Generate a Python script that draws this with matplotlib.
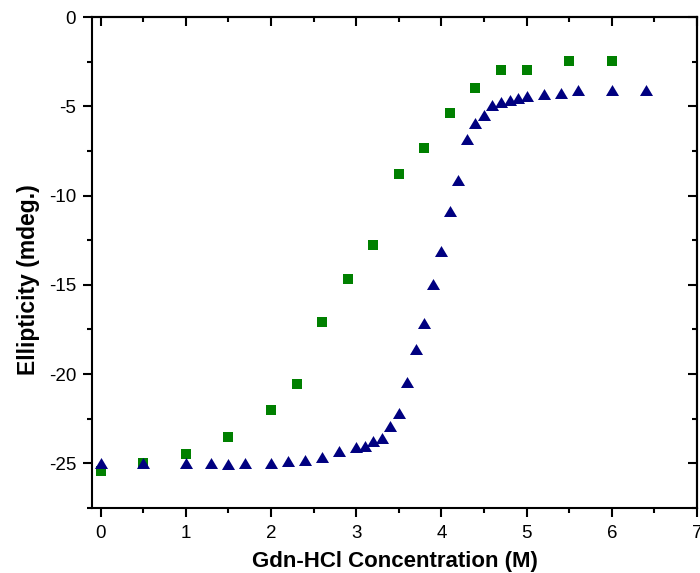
import matplotlib
matplotlib.use("Agg")
import matplotlib.pyplot as plt
from matplotlib.ticker import MultipleLocator

plt.rcParams['font.family'] = ['Liberation Sans', 'DejaVu Sans']
plt.rcParams['axes.unicode_minus'] = False

# Gdn-HCl denaturation series (concentration in M, ellipticity in mdeg)
conc_green = [0.0, 0.5, 1.0, 1.5, 2.0, 2.3, 2.6, 2.9, 3.2, 3.5, 3.8, 4.1, 4.4,
              4.7, 5.0, 5.5, 6.0]
ellip_green = [-25.45, -25.0, -24.45, -23.5, -22.0, -20.55, -17.1, -14.7,
               -12.75, -8.8, -7.35, -5.4, -3.95, -2.95, -2.95, -2.45, -2.45]

conc_blue = [0.0, 0.5, 1.0, 1.3, 1.5, 1.7, 2.0, 2.2, 2.4, 2.6, 2.8, 3.0, 3.1,
             3.2, 3.3, 3.4, 3.5, 3.6, 3.7, 3.8, 3.9, 4.0, 4.1, 4.2, 4.3, 4.4,
             4.5, 4.6, 4.7, 4.8, 4.9, 5.0, 5.2, 5.4, 5.6, 6.0, 6.4]
ellip_blue = [-25.0, -25.0, -25.0, -25.0, -25.05, -25.0, -24.97, -24.87,
              -24.8, -24.65, -24.3, -24.1, -24.04, -23.73, -23.6, -22.93,
              -22.2, -20.43, -18.6, -17.13, -14.98, -13.08, -10.86, -9.12,
              -6.86, -5.92, -5.5, -4.95, -4.76, -4.64, -4.55, -4.44, -4.31,
              -4.26, -4.11, -4.11, -4.11]

x_ticks = [0, 1, 2, 3, 4, 5, 6, 7]
y_ticks = [0, -5, -10, -15, -20, -25]

fig = plt.figure(figsize=(7.0, 5.73), dpi=100)
ax = fig.add_axes([92 / 700, 1 - 508 / 573, 605 / 700, 491 / 573])

# wide, slightly flattened triangle marker
tri = [(-1.0, -0.84), (1.0, -0.84), (0.0, 0.84), (-1.0, -0.84)]

ax.plot(conc_green, ellip_green, linestyle='none', marker='s',
        markersize=7.3, color='#008000', markeredgewidth=0, zorder=3)
ax.plot(conc_blue, ellip_blue, linestyle='none', marker=tri,
        markersize=9.4, color='#000080', markeredgewidth=0, zorder=4)

ax.set_xlim(-0.1, 7.0)
ax.set_ylim(-27.5, 0)
ax.set_xticks(x_ticks)
ax.set_yticks(y_ticks)
ax.xaxis.set_minor_locator(MultipleLocator(0.5))
ax.yaxis.set_minor_locator(MultipleLocator(2.5))

for s in ax.spines.values():
    s.set_linewidth(1.5)
    s.set_color('black')

# bottom/left ticks outward, mirrored top/right ticks inward
ax.tick_params(axis='both', which='major', length=6.5, width=1.5,
               labelsize=13.5, direction='out', color='black')
ax.tick_params(axis='both', which='minor', length=3.5, width=1.5,
               direction='out', color='black')
ax.tick_params(axis='x', which='both', pad=6)
ax.tick_params(axis='y', which='both', pad=5)

ax_top = ax.secondary_xaxis('top')
ax_top.set_xticks(x_ticks)
ax_top.xaxis.set_minor_locator(MultipleLocator(0.5))
ax_top.tick_params(which='major', direction='in', length=6.5, width=1.5,
                   labeltop=False)
ax_top.tick_params(which='minor', direction='in', length=3.5, width=1.5)
ax_top.spines['top'].set_linewidth(1.5)

ax_right = ax.secondary_yaxis('right')
ax_right.set_yticks(y_ticks)
ax_right.yaxis.set_minor_locator(MultipleLocator(2.5))
ax_right.tick_params(which='major', direction='in', length=6.5, width=1.5,
                     labelright=False)
ax_right.tick_params(which='minor', direction='in', length=3.5, width=1.5)
ax_right.spines['right'].set_linewidth(1.5)

ax.set_xlabel('Gdn-HCl Concentration (M)', fontsize=16, fontweight='bold')
ax.set_ylabel('Ellipticity (mdeg.)', fontsize=16.5, fontweight='bold')
ax.xaxis.set_label_coords(0.5, -0.088)
ax.yaxis.set_label_coords(-0.086, 0.466)

fig.savefig('out.png', dpi=100)
